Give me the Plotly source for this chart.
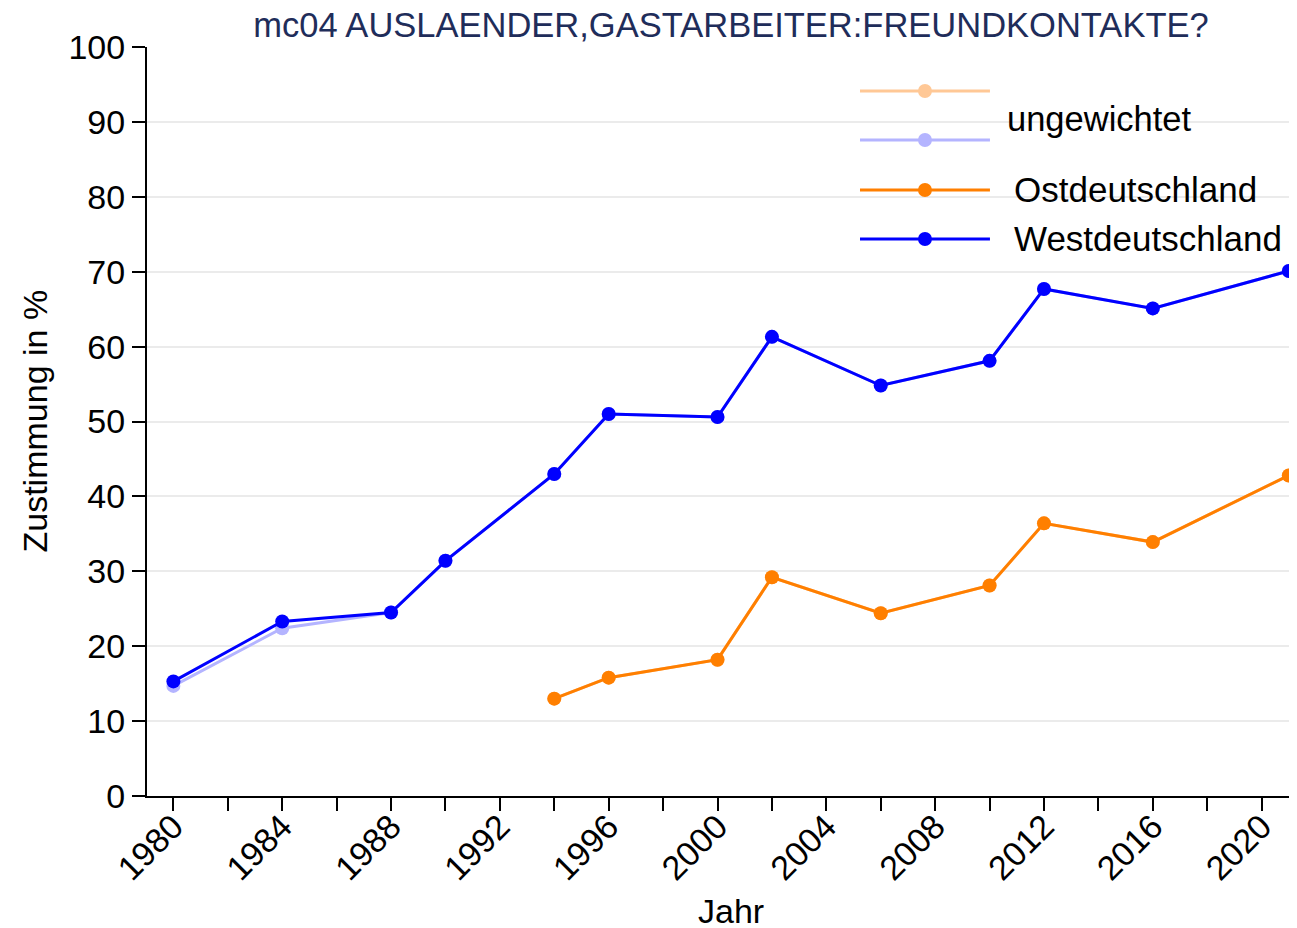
import plotly.graph_objects as go

# Data
years_west = [1980, 1984, 1988, 1990, 1994, 1996, 2000, 2002, 2006, 2010, 2012, 2016, 2021]
west = [15.3, 23.3, 24.5, 31.4, 43.0, 51.0, 50.6, 61.3, 54.8, 58.1, 67.7, 65.1, 70.1]
west_unw = [14.7, 22.4, 24.5, 31.4, 43.0, 51.0, 50.6, 61.3, 54.8, 58.1, 67.7, 65.1, 70.1]

years_east = [1994, 1996, 2000, 2002, 2006, 2010, 2012, 2016, 2021]
east = [13.0, 15.8, 18.2, 29.2, 24.4, 28.1, 36.4, 33.9, 42.8]
east_unw = [13.0, 15.8, 18.2, 29.2, 24.4, 28.1, 36.4, 33.9, 42.8]

x_tickvals = [1980, 1984, 1988, 1992, 1996, 2000, 2004, 2008, 2012, 2016, 2020]
y_tickvals = [0, 10, 20, 30, 40, 50, 60, 70, 80, 90, 100]

title_text = "mc04 AUSLAENDER,GASTARBEITER:FREUNDKONTAKTE?"
legend_items = [
    ("", "#FFC896"),
    ("", "#B4B4FF"),
    ("Ostdeutschland", "#FF7F00"),
    ("Westdeutschland", "#0000FF"),
]

C_WEST = "#0000FF"
C_EAST = "#FF7F00"
C_WEST_L = "#B4B4FF"
C_EAST_L = "#FFC896"

FONT = "Liberation Sans, Arial, sans-serif"

# page has an 8px body margin: figure is sized so it fits the 1297x928 window
OFF = 8
W, H = 1297 - OFF, 928 - OFF

fig = go.Figure()

def add(xs, ys, color, name):
    fig.add_trace(go.Scatter(
        x=xs, y=ys, mode="lines+markers", name=name,
        line=dict(color=color, width=3),
        marker=dict(color=color, size=14),
        showlegend=False, cliponaxis=False,
    ))

add(years_east, east_unw, C_EAST_L, "Ost ungewichtet")
add(years_west, west_unw, C_WEST_L, "West ungewichtet")
add(years_east, east, C_EAST, "Ostdeutschland")
add(years_west, west, C_WEST, "Westdeutschland")

# Manual legend (paper coordinates)
leg_x0, leg_x1, leg_xm = 0.620, 0.733, 0.6765
leg_ys = [0.9413, 0.8758, 0.8091, 0.7437]
shapes = []
annotations = []
for (label, color), yy in zip(legend_items, leg_ys):
    shapes.append(dict(type="line", xref="paper", yref="paper",
                       x0=leg_x0, x1=leg_x1, y0=yy, y1=yy,
                       line=dict(color=color, width=3)))
    rx = 7 / 1150
    ry = 7 / 749
    shapes.append(dict(type="circle", xref="paper", yref="paper",
                       x0=leg_xm - rx, x1=leg_xm + rx, y0=yy - ry, y1=yy + ry,
                       fillcolor=color, line=dict(color=color, width=0)))
    if label:
        annotations.append(dict(text=label, xref="paper", yref="paper",
                                x=0.752, y=yy, xanchor="left", yanchor="middle",
                                showarrow=False, font=dict(size=35, color="black", family=FONT)))
annotations.append(dict(text="ungewichtet", xref="paper", yref="paper",
                        x=0.746, y=0.9039, xanchor="left", yanchor="middle",
                        showarrow=False, font=dict(size=34.5, color="black", family=FONT)))
# axis titles
annotations.append(dict(text="Jahr", xref="paper", yref="paper",
                        x=(731 - 147) / 1150, y=-(911 - 796) / 749,
                        xanchor="center", yanchor="middle", showarrow=False,
                        font=dict(size=34, color="black", family=FONT)))
annotations.append(dict(text="Zustimmung in %", xref="paper", yref="paper",
                        x=-(147 - 34) / 1150, y=0.5, textangle=-90,
                        xanchor="center", yanchor="middle", showarrow=False,
                        font=dict(size=34, color="black", family=FONT)))

fig.update_layout(
    width=W, height=H,
    margin=dict(l=147 - OFF, r=0, t=47 - OFF, b=928 - 796, autoexpand=False),
    paper_bgcolor="white", plot_bgcolor="white",
    font=dict(family=FONT, size=34, color="black"),
    title=dict(text=title_text, x=(731 - OFF) / W, xanchor="center",
               y=1 - (25 - OFF) / H, yanchor="middle",
               font=dict(size=34.5, color="#1F2D5A", family=FONT)),
    shapes=shapes, annotations=annotations,
    showlegend=False,
)

fig.update_xaxes(
    range=[1979.03, 2021.3], automargin=False,
    tickmode="array", tickvals=x_tickvals, ticktext=[str(v) for v in x_tickvals],
    tickangle=-45, ticks="outside", ticklen=13, tickwidth=2, tickcolor="black",
    ticklabelstandoff=-18,
    minor=dict(tickmode="array", tickvals=list(range(1982, 2022, 4)), ticks="outside",
               ticklen=13, tickwidth=2, tickcolor="black", showgrid=False),
    showline=True, linecolor="black", linewidth=2,
    showgrid=False, zeroline=False,
    tickfont=dict(size=34),
)
fig.update_yaxes(
    range=[0, 100], automargin=False,
    tickmode="array", tickvals=y_tickvals,
    ticks="outside", ticklen=13, tickwidth=2, tickcolor="black",
    showline=True, linecolor="black", linewidth=2,
    showgrid=True, gridcolor="#EBEBEB", gridwidth=2, zeroline=False,
    tickfont=dict(size=34),
)

fig.write_html("out.html")
